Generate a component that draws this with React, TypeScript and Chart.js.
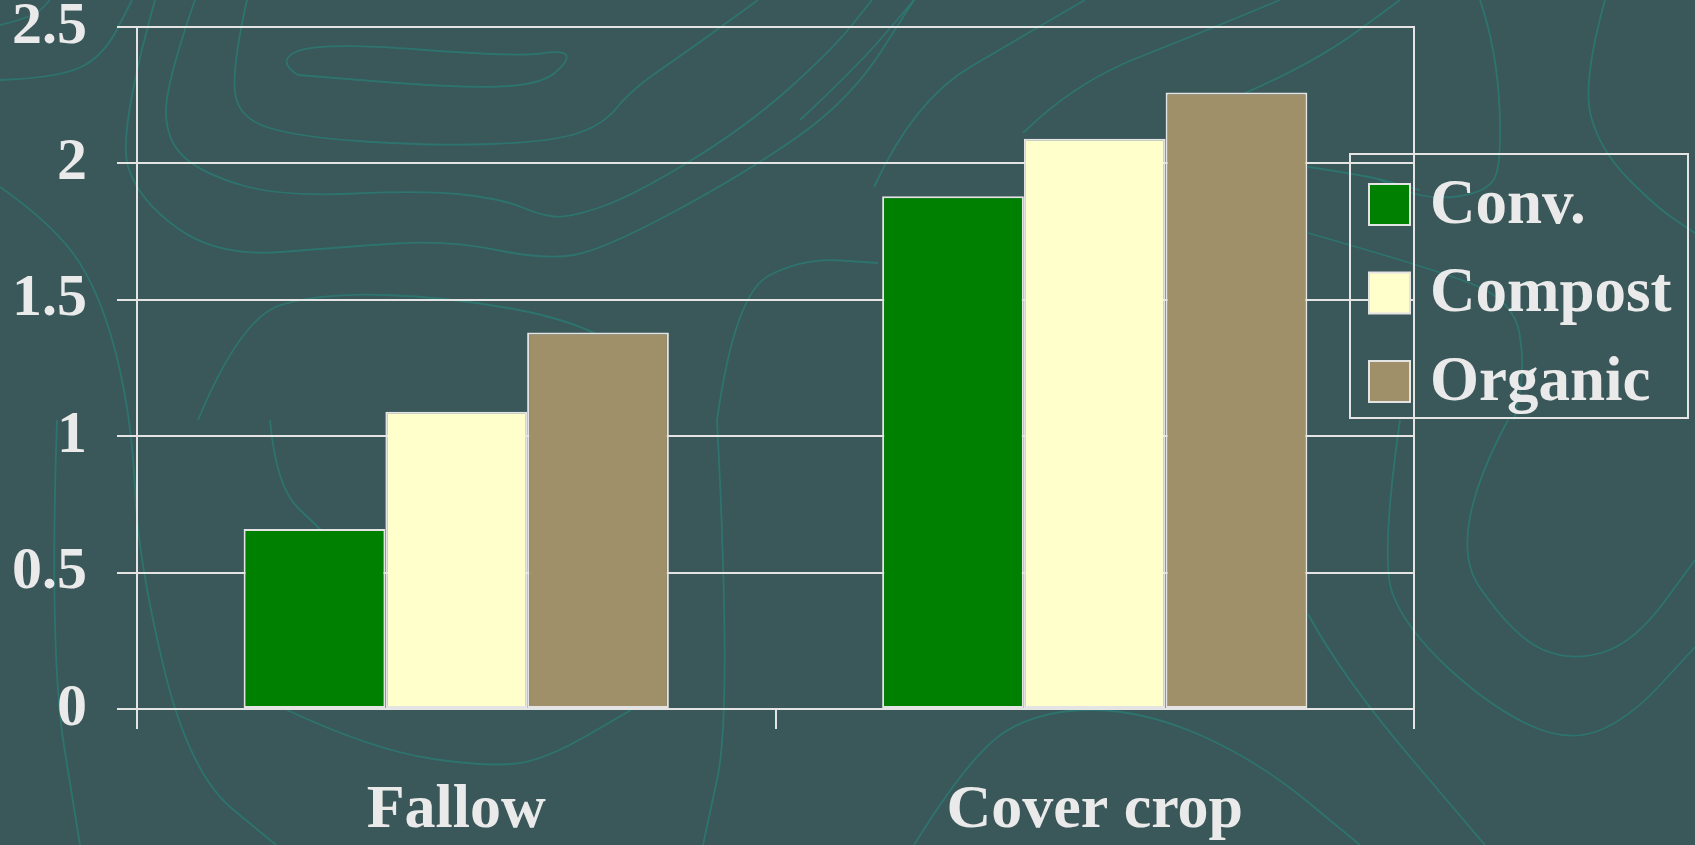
import { useEffect, useRef } from "react";
import { Chart, registerables } from "chart.js";

Chart.register(...registerables);

// Chart data
const categories = ["Fallow", "Cover crop"];
const seriesNames = ["Conv.", "Compost", "Organic"];
const convValues = [0.66, 1.88];
const compostValues = [1.09, 2.09];
const organicValues = [1.38, 2.26];
const seriesColors = ["#008000", "#FFFFCC", "#A0906A"];
const yTickValues = [0, 0.5, 1, 1.5, 2, 2.5];
const yTickLabels = ["0", "0.5", "1", "1.5", "2", "2.5"];

// Slide theme
const BG = "#3A5759";
const INK = "#EAEAEA";
const LINE = "#E4E4E4";
const FONT = "'Liberation Serif', 'Times New Roman', serif";

// Decorative topographic contours of the slide background
const contours: number[][][] = [
  [[298, 75], [275, 60], [321, 42], [517, 57], [565, 50], [568, 62], [540, 85], [459, 88], [298, 75]],
  [[247, 0], [232, 67], [238, 118], [298, 137], [430, 146], [551, 142], [603, 125], [631, 90], [689, 50], [758, 0]],
  [[195, 0], [166, 83], [166, 140], [201, 173], [281, 197], [430, 190], [505, 200], [540, 215], [568, 218], [631, 197], [746, 127], [832, 50], [872, 0]],
  [[155, 0], [118, 133], [138, 200], [218, 257], [344, 247], [448, 240], [545, 260], [603, 250], [746, 173], [850, 100], [914, 0]],
  [[0, 187], [57, 227], [103, 300], [132, 420], [138, 560], [189, 773], [276, 845]],
  [[0, 80], [57, 78], [103, 57], [132, 0]],
  [[0, 25], [34, 17], [50, 0]],
  [[57, 420], [49, 653], [80, 845]],
  [[198, 420], [241, 317], [321, 293], [448, 297], [574, 320], [640, 360]],
  [[270, 420], [276, 487], [321, 530]],
  [[287, 710], [373, 750], [488, 767], [545, 760], [631, 710]],
  [[717, 420], [735, 293], [803, 258], [878, 263]],
  [[717, 420], [732, 710], [703, 845]],
  [[914, 845], [971, 753], [1040, 710], [1143, 710], [1257, 760], [1360, 845]],
  [[1400, 420], [1380, 560], [1405, 627], [1485, 703], [1565, 743], [1628, 720], [1695, 647]],
  [[1508, 420], [1445, 537], [1514, 637], [1571, 662], [1634, 643], [1695, 560]],
  [[1308, 614], [1342, 677], [1485, 845]],
  [[800, 120], [857, 67], [914, 0]],
  [[874, 187], [914, 100], [1028, 33], [1085, 0]],
  [[1023, 133], [1074, 83], [1200, 33], [1280, 0]],
  [[1245, 93], [1314, 63], [1400, 0]],
  [[1480, 0], [1497, 50], [1502, 167], [1485, 193], [1428, 200], [1380, 180]],
  [[1605, 0], [1582, 83], [1600, 150], [1656, 207], [1695, 233]],
  [[1308, 167], [1365, 175], [1420, 190]],
  [[1308, 233], [1428, 267], [1514, 300], [1525, 367], [1514, 420]],
];

function smoothPath(ctx: CanvasRenderingContext2D, pts: number[][]) {
  ctx.beginPath();
  ctx.moveTo(pts[0][0], pts[0][1]);
  for (let i = 1; i < pts.length - 1; i++) {
    const mx = (pts[i][0] + pts[i + 1][0]) / 2;
    const my = (pts[i][1] + pts[i + 1][1]) / 2;
    ctx.quadraticCurveTo(pts[i][0], pts[i][1], mx, my);
  }
  const last = pts[pts.length - 1];
  ctx.lineTo(last[0], last[1]);
  ctx.stroke();
}

const backgroundPlugin = {
  id: "slideBackground",
  beforeDraw(chart: any) {
    const { ctx, width, height } = chart;
    ctx.save();
    ctx.fillStyle = BG;
    ctx.fillRect(0, 0, width, height);
    ctx.strokeStyle = "rgba(42, 128, 120, 0.7)";
    ctx.lineWidth = 1.8;
    contours.forEach((c) => smoothPath(ctx, c));
    ctx.restore();
  },
};

// Right edge of the plot frame
const framePlugin = {
  id: "plotFrame",
  afterDatasetsDraw(chart: any) {
    const { ctx, chartArea } = chart;
    ctx.save();
    ctx.strokeStyle = LINE;
    ctx.lineWidth = 2;
    ctx.beginPath();
    ctx.moveTo(chartArea.right, chartArea.top - 1);
    ctx.lineTo(chartArea.right, chartArea.bottom);
    ctx.stroke();
    ctx.restore();
  },
};

// Boxed legend overlapping the right side of the plot
const boxLegendPlugin = {
  id: "boxLegend",
  afterDraw(chart: any) {
    const { ctx, chartArea } = chart;
    const left = chartArea.right - 64;
    const top = chartArea.top + 127;
    const w = 338;
    const h = 264;
    const sw = 41;
    const rowGap = 88.5;
    ctx.save();
    ctx.strokeStyle = LINE;
    ctx.lineWidth = 2;
    ctx.strokeRect(left, top, w, h);
    ctx.font = `bold 63px ${FONT}`;
    ctx.textBaseline = "middle";
    ctx.textAlign = "left";
    chart.data.datasets.forEach((ds: any, i: number) => {
      const sy = top + 30 + i * rowGap;
      const sx = left + 19;
      ctx.fillStyle = ds.backgroundColor;
      ctx.fillRect(sx, sy, sw, sw);
      ctx.strokeStyle = LINE;
      ctx.lineWidth = 2;
      ctx.strokeRect(sx, sy, sw, sw);
      ctx.fillStyle = INK;
      ctx.fillText(ds.label, left + 80, sy + sw / 2 + 2);
    });
    ctx.restore();
  },
};

export default function App() {
  const canvasRef = useRef<HTMLCanvasElement | null>(null);

  useEffect(() => {
    document.body.style.margin = "0";
    document.body.style.background = BG;
    const canvas = canvasRef.current;
    if (!canvas) return;
    const valueSets = [convValues, compostValues, organicValues];
    const chart = new Chart(canvas, {
      type: "bar",
      data: {
        labels: categories,
        datasets: seriesNames.map((name, i) => ({
          label: name,
          data: valueSets[i],
          backgroundColor: seriesColors[i],
          borderColor: LINE,
          borderWidth: 2,
          borderSkipped: false,
          categoryPercentage: 0.666,
          barPercentage: 1.0,
        })),
      },
      options: {
        animation: false,
        responsive: false,
        devicePixelRatio: 1,
        layout: { padding: { top: 27, right: 281, left: 0, bottom: 0 } },
        plugins: {
          legend: { display: false },
          tooltip: { enabled: false },
        },
        scales: {
          x: {
            offset: true,
            grid: {
              display: true,
              offset: true,
              drawOnChartArea: false,
              drawTicks: true,
              tickLength: 20,
              color: LINE,
              lineWidth: 2,
            },
            border: { display: true, color: LINE, width: 2 },
            ticks: {
              color: INK,
              font: { family: FONT, size: 62, weight: "bold" },
              padding: 45,
              maxRotation: 0,
            },
            afterFit(scale: any) {
              scale.height = 136;
              scale.paddingLeft = 0;
              scale.paddingRight = 0;
            },
          },
          y: {
            min: 0,
            max: 2.5,
            grid: {
              color: LINE,
              lineWidth: 2,
              drawTicks: true,
              tickLength: 20,
            },
            border: { display: true, color: LINE, width: 2 },
            ticks: {
              stepSize: 0.5,
              color: INK,
              padding: 30,
              font: { family: FONT, size: 60, weight: "bold" },
              callback: (value: any) => {
                const i = yTickValues.indexOf(Number(value));
                return i >= 0 ? yTickLabels[i] : "";
              },
            },
            afterFit(scale: any) {
              scale.width = 137;
              scale.paddingTop = 0;
              scale.paddingBottom = 0;
            },
          },
        },
      },
      plugins: [backgroundPlugin, framePlugin, boxLegendPlugin],
    });
    return () => chart.destroy();
  }, []);

  return (
    <div style={{ position: "fixed", left: 0, top: 0, width: 1695, height: 845, background: BG }}>
      <canvas ref={canvasRef} width={1695} height={845} />
    </div>
  );
}
